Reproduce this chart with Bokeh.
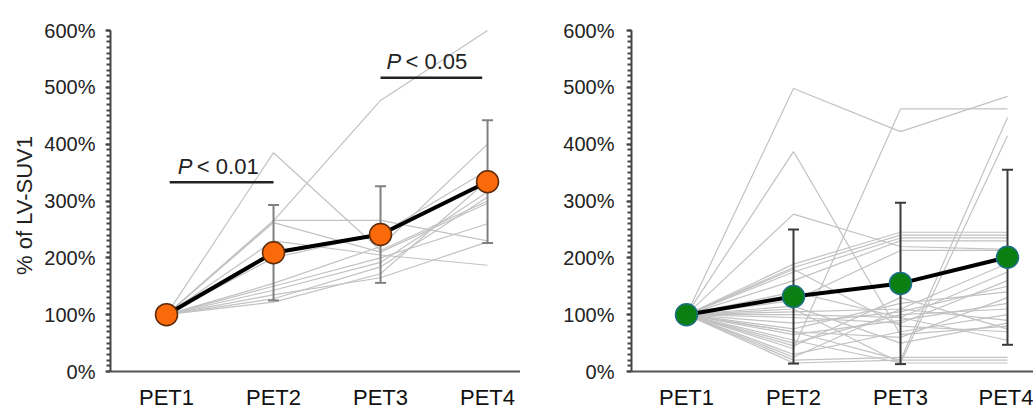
import numpy as np
from bokeh.plotting import figure
from bokeh.layouts import row
from bokeh.models import Range1d, FixedTicker
from bokeh.core.properties import value
from bokeh.embed import file_html
from bokeh.resources import INLINE

# ---------------- data ----------------
timepoints = [1, 2, 3, 4]
tick_labels = ["PET1", "PET2", "PET3", "PET4"]
y_ticks = [0, 100, 200, 300, 400, 500, 600]
y_tick_labels = ["0%", "100%", "200%", "300%", "400%", "500%", "600%"]
y_label = "% of LV-SUV1"

# left panel (orange) - individual subjects
left_subjects = [
    [100, 385, 213, 300],
    [100, 266, 266, 230],
    [100, 262, 210, 296],
    [100, 230, 205, 187],
    [100, 265, 477, 600],
    [100, 200, 242, 354],
    [100, 155, 220, 400],
    [100, 143, 192, 316],
    [100, 128, 184, 307],
    [100, 122, 172, 336],
    [100, 150, 200, 260],
    [100, 135, 165, 228],
]
left_mean = [100, 209, 241, 334]
left_sd = [0, 84, 85, 108]

# right panel (green) - individual subjects
right_subjects = [
    [100, 498, 422, 484],
    [100, 387, 65, 80],
    [100, 277, 220, 215],
    [100, 40, 462, 462],
    [100, 70, 20, 447],
    [100, 110, 15, 415],
    [100, 189, 245, 245],
    [100, 183, 240, 240],
    [100, 175, 235, 235],
    [100, 160, 230, 230],
    [100, 125, 213, 213],
    [100, 105, 110, 190],
    [100, 100, 95, 175],
    [100, 95, 85, 160],
    [100, 85, 105, 150],
    [100, 75, 120, 140],
    [100, 70, 60, 130],
    [100, 65, 90, 120],
    [100, 50, 100, 110],
    [100, 30, 70, 100],
    [100, 20, 25, 25],
    [100, 15, 20, 20],
    [100, 25, 110, 90],
    [100, 45, 130, 75],
    [100, 115, 50, 85],
    [100, 180, 80, 70],
    [100, 55, 15, 15],
    [100, 140, 95, 55],
]
right_mean = [100, 132, 155, 201]
right_sd = [0, 118, 142, 154]

# significance annotations (left panel)
sig_x0 = [1.03, 3.0]
sig_x1 = [2.0, 3.95]
sig_y = [333, 517]
sig_p_x = [1.106, 3.056]
sig_text_y = [361, 545]
sig_text = ["< 0.01", "< 0.05"]

FONT = "Liberation Sans"
HEIGHT = 410


def make_panel(width, border_left, x_start, x_end, subjects, mean, sd,
               fill, outline, bar_color, tick_standoff):
    p = figure(width=width, height=HEIGHT, output_backend="svg",
               toolbar_location=None,
               x_range=Range1d(x_start, x_end),
               y_range=Range1d(-68.6, 652.8),
               min_border_left=border_left, min_border_right=0,
               min_border_top=0, min_border_bottom=0)
    p.outline_line_color = None
    p.grid.visible = False
    p.background_fill_color = "white"
    p.border_fill_color = "white"

    for s in subjects:
        p.line(timepoints, s, line_color="#c2c2c2", line_width=1.2)

    m = np.array(mean, dtype=float)
    d = np.array(sd, dtype=float)
    hi = m + d
    lo = m - d
    p.segment(x0=timepoints, y0=lo, x1=timepoints, y1=hi,
              line_color=bar_color, line_width=2)
    p.scatter(timepoints, hi, marker="dash", size=11,
              line_color=bar_color, line_width=2)
    p.scatter(timepoints, lo, marker="dash", size=11,
              line_color=bar_color, line_width=2)

    p.line(timepoints, mean, line_color="black", line_width=4)
    p.scatter(timepoints, mean, size=22, fill_color=fill,
              line_color=outline, line_width=1.5)

    # x axis at y = 0
    xa = p.xaxis[0]
    xa.fixed_location = 0
    xa.ticker = FixedTicker(ticks=timepoints)
    xa.major_label_overrides = {t: l for t, l in zip(timepoints, tick_labels)}
    xa.major_tick_out = 0
    xa.major_tick_in = 0
    xa.minor_tick_out = 0
    xa.minor_tick_in = 0
    xa.axis_line_color = "#555555"
    xa.axis_line_width = 2
    xa.major_label_text_font = FONT
    xa.major_label_text_font_size = "22px"
    xa.major_label_text_color = "#111111"
    xa.major_label_standoff = 13

    ya = p.yaxis[0]
    ya.bounds = (0, 600)
    ya.ticker = FixedTicker(ticks=y_ticks, minor_ticks=list(range(0, 601, 10)))
    ya.major_label_overrides = {t: l for t, l in zip(y_ticks, y_tick_labels)}
    ya.axis_line_color = "#444444"
    ya.axis_line_width = 2
    ya.major_tick_line_color = "#444444"
    ya.major_tick_line_width = 2
    ya.minor_tick_line_color = "#444444"
    ya.minor_tick_line_width = 2
    ya.major_tick_out = 5
    ya.major_tick_in = 0
    ya.minor_tick_out = 4
    ya.minor_tick_in = 0
    ya.major_label_text_font = FONT
    ya.major_label_text_font_size = "20px"
    ya.major_label_text_color = "#222222"
    ya.major_label_standoff = tick_standoff
    return p


left = make_panel(520, 110, 0.4766, 4.308, left_subjects, left_mean, left_sd,
                  "#fa6a0a", "#5a2a08", "#808080", 10)
left.yaxis[0].axis_label = y_label
left.yaxis[0].axis_label_text_font = FONT
left.yaxis[0].axis_label_text_font_size = "22px"
left.yaxis[0].axis_label_text_font_style = "normal"
left.yaxis[0].axis_label_text_color = "#222222"
left.yaxis[0].axis_label_standoff = 4

left.segment(x0=sig_x0, y0=sig_y, x1=sig_x1, y1=sig_y,
             line_color="#222222", line_width=2.5)
left.text(x=sig_p_x, y=sig_text_y, text=["P", "P"],
          text_font=value(FONT), text_font_size="22px",
          text_font_style="italic", text_color="#222222",
          text_align="left", text_baseline="alphabetic")
left.text(x=sig_p_x, y=sig_text_y, text=sig_text, x_offset=19,
          text_font=value(FONT), text_font_size="22px",
          text_color="#222222",
          text_align="left", text_baseline="alphabetic")

right = make_panel(513, 111, 0.486, 4.243, right_subjects, right_mean, right_sd,
                   "#0c7f12", "#1d6f86", "#3a3a3a", 12)

layout = row(left, right)
open("out.html", "w").write(file_html(layout, INLINE))
